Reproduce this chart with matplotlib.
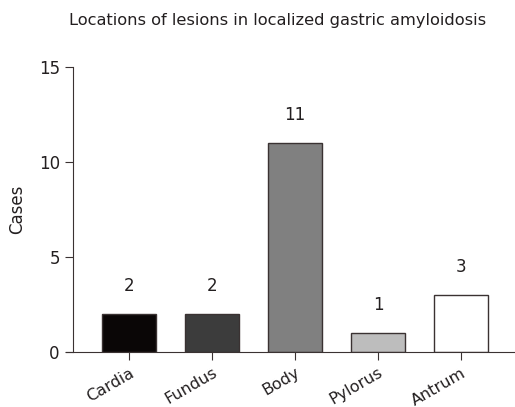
import matplotlib.pyplot as plt

sites = ["Cardia", "Fundus", "Body", "Pylorus", "Antrum"]
cases = [2, 2, 11, 1, 3]
colors = ["#0a0606", "#3c3c3c", "#808080", "#bdbdbd", "#ffffff"]

plt.rcParams['font.family'] = ['Verdana', 'DejaVu Sans']

fig = plt.figure(figsize=(5.15, 4.07), dpi=100)
ax = fig.add_axes([73 / 515, 1 - 352 / 407, (515 - 73) / 515, (352 - 67) / 407])

x = range(len(sites))
ax.bar(x, cases, width=0.66, color=colors, edgecolor="#3a3232", linewidth=1)
for i, v in enumerate(cases):
    ax.annotate(str(v), (i, v), xytext=(0, 20), textcoords="offset points",
                ha="center", va="center", fontsize=12, color="#231f20")

ax.set_xlim(-0.675, 4.65)
ax.set_ylim(0, 15)
ax.set_yticks([0, 5, 10, 15])
ax.set_xticks(list(x))
ax.set_xticklabels(sites, rotation=30, ha="right", rotation_mode="anchor", fontsize=11.5)
ax.tick_params(axis="y", labelsize=12, length=6, color="#3a3232", labelcolor="#231f20")
ax.tick_params(axis="x", length=6, color="#3a3232", labelcolor="#231f20")
ax.set_ylabel("Cases", fontsize=12, color="#231f20", labelpad=9)
for s in ["top", "right"]:
    ax.spines[s].set_visible(False)
for s in ["left", "bottom"]:
    ax.spines[s].set_color("#3a3232")
ax.spines["bottom"].set_bounds(-0.765, 4.65)

fig.text(278 / 515, 1 - 20 / 407, "Locations of lesions in localized gastric amyloidosis",
         ha="center", va="center", fontsize=11.7, color="#231f20")

fig.savefig("out.png", dpi=100)
